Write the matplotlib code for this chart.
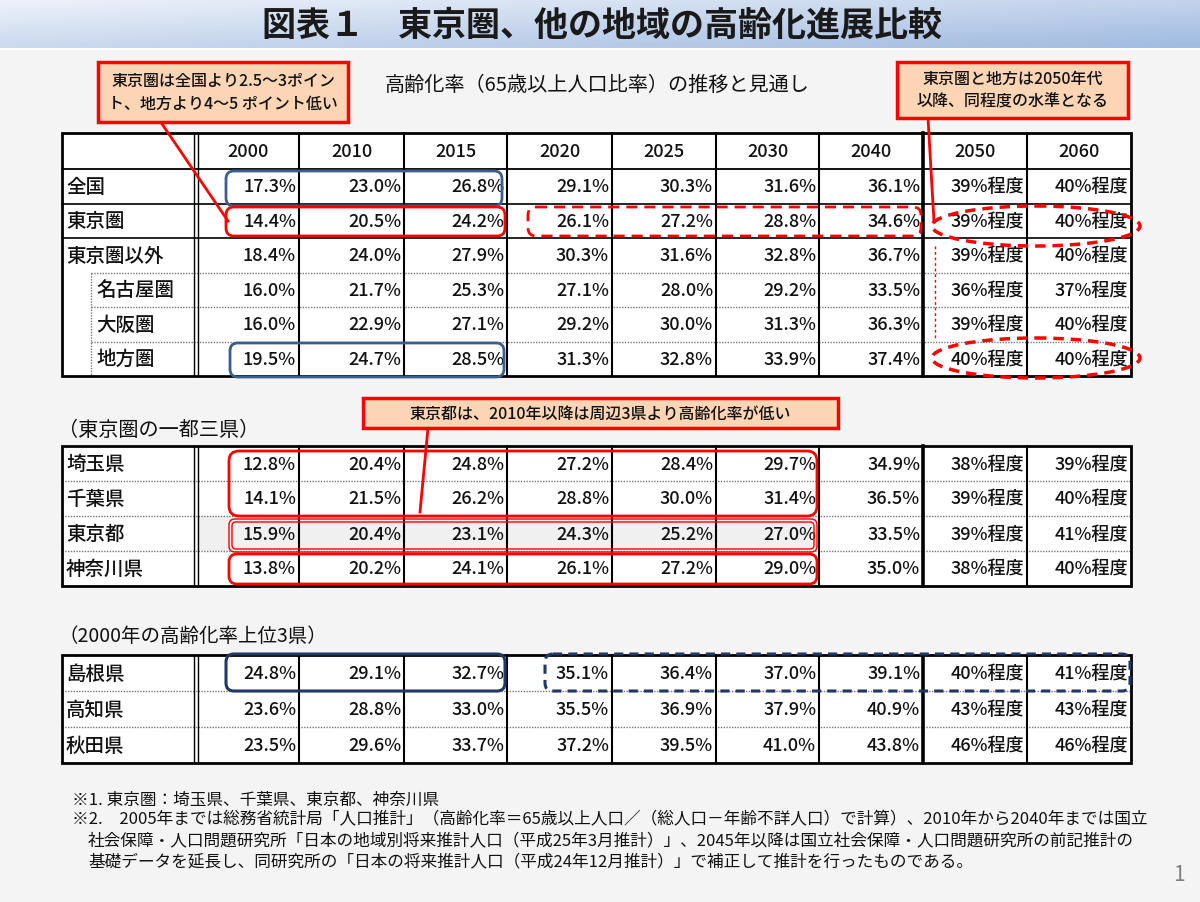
import matplotlib
matplotlib.use("Agg")
import matplotlib.pyplot as plt
import matplotlib.patches as mpatches
import numpy as np

plt.rcParams['font.family'] = ['Noto Sans CJK JP', 'DejaVu Sans']

# ---- data ----
years = [2000, 2010, 2015, 2020, 2025, 2030, 2040, 2050, 2060]

t1_labels = ['全国', '東京圏', '東京圏以外', '名古屋圏', '大阪圏', '地方圏']
zenkoku = [17.3, 23.0, 26.8, 29.1, 30.3, 31.6, 36.1, 39, 40]
tokyo_ken = [14.4, 20.5, 24.2, 26.1, 27.2, 28.8, 34.6, 39, 40]
tokyo_igai = [18.4, 24.0, 27.9, 30.3, 31.6, 32.8, 36.7, 39, 40]
nagoya = [16.0, 21.7, 25.3, 27.1, 28.0, 29.2, 33.5, 36, 37]
osaka = [16.0, 22.9, 27.1, 29.2, 30.0, 31.3, 36.3, 39, 40]
chiho = [19.5, 24.7, 28.5, 31.3, 32.8, 33.9, 37.4, 40, 40]

t2_labels = ['埼玉県', '千葉県', '東京都', '神奈川県']
saitama = [12.8, 20.4, 24.8, 27.2, 28.4, 29.7, 34.9, 38, 39]
chiba = [14.1, 21.5, 26.2, 28.8, 30.0, 31.4, 36.5, 39, 40]
tokyo_to = [15.9, 20.4, 23.1, 24.3, 25.2, 27.0, 33.5, 39, 41]
kanagawa = [13.8, 20.2, 24.1, 26.1, 27.2, 29.0, 35.0, 38, 40]

t3_labels = ['島根県', '高知県', '秋田県']
shimane = [24.8, 29.1, 32.7, 35.1, 36.4, 37.0, 39.1, 40, 41]
kochi = [23.6, 28.8, 33.0, 35.5, 36.9, 37.9, 40.9, 43, 43]
akita = [23.5, 29.6, 33.7, 37.2, 39.5, 41.0, 43.8, 46, 46]

title = '図表１　東京圏、他の地域の高齢化進展比較'
subtitle = '高齢化率（65歳以上人口比率）の推移と見通し'
note1 = '東京圏は全国より2.5～3ポイン\nト、地方より4～5 ポイント低い'
note2 = '東京圏と地方は2050年代\n以降、同程度の水準となる'
note3 = '東京都は、2010年以降は周辺3県より高齢化率が低い'
sec2 = '（東京圏の一都三県）'
sec3 = '（2000年の高齢化率上位3県）'
foot = ['※1. 東京圏：埼玉県、千葉県、東京都、神奈川県',
        '※2.　2005年までは総務省統計局「人口推計」（高齢化率＝65歳以上人口／（総人口－年齢不詳人口）で計算）、2010年から2040年までは国立',
        '社会保障・人口問題研究所「日本の地域別将来推計人口（平成25年3月推計）」、2045年以降は国立社会保障・人口問題研究所の前記推計の',
        '基礎データを延長し、同研究所の「日本の将来推計人口（平成24年12月推計）」で補正して推計を行ったものである。']

# ---- layout ----
col_x = [62, 197, 299, 404, 507, 612, 716, 819, 923, 1027, 1131]
RED = '#ff0000'
BLUE = '#3c5d8f'
NAVY = '#1f3864'
TXT = '#111111'

fig = plt.figure(figsize=(12, 9.02), dpi=100, facecolor='#f4f4f4')
ax = fig.add_axes([0, 0, 1, 1])
ax.set_xlim(0, 1200)
ax.set_ylim(902, 0)
ax.axis('off')

# title band gradient
gx = np.linspace(0, 1, 300)
gy = np.linspace(0, 1, 40)
GX, GY = np.meshgrid(gx, gy)
c0 = np.array([238, 242, 250]) / 255
c1 = np.array([160, 186, 224]) / 255
t = np.clip(0.55 * GX + 0.45 * GY, 0, 1)[..., None]
grad = c0 * (1 - t) + c1 * t
ax.imshow(grad, extent=[0, 1200, 48, 0], aspect='auto', zorder=0)
ax.plot([0, 1200], [49, 49], color='white', lw=1.5)
ax.text(602, 25, title, ha='center', va='center', fontsize=24.5, fontweight='bold', color='#1a1a1a')


def fmt(v, yr):
    if yr <= 2040:
        return f'{v:.1f}%'
    return f'{v:.0f}%程度'


def draw_table(top, row_h, labels, rows, header_h=0, indent=None, solid_rows=()):
    bottom = top + header_h + row_h * len(rows)
    ax.add_patch(mpatches.Rectangle((col_x[0], top), col_x[-1] - col_x[0], bottom - top,
                                    facecolor='white', edgecolor='none', zorder=1))
    if header_h:
        for i, yr in enumerate(years):
            cx = (col_x[i + 1] + col_x[i + 2]) / 2
            ax.text(cx, top + header_h / 2 + 1, str(yr), ha='center', va='center', fontsize=13,
                    color=TXT, fontweight='medium', zorder=5)
        ax.plot([col_x[0], col_x[-1]], [top + header_h] * 2, color='black', lw=1.3, zorder=3)
    y0 = top + header_h
    for r, (lab, vals) in enumerate(zip(labels, rows)):
        yc = y0 + row_h * (r + 0.5) + 1
        lx = 66
        if indent is not None and r >= indent:
            lx = 96
        ax.text(lx, yc, lab, ha='left', va='center', fontsize=14, color=TXT, fontweight='medium', zorder=5)
        for i, (v, yr) in enumerate(zip(vals, years)):
            ax.text(col_x[i + 2] - 3, yc, fmt(v, yr), ha='right', va='center', fontsize=13,
                    color=TXT, fontweight='medium', zorder=5)
        if r < len(rows) - 1:
            yl = y0 + row_h * (r + 1)
            if r in solid_rows:
                ax.plot([col_x[0], col_x[-1]], [yl, yl], color='black', lw=1.2, zorder=3)
            else:
                xs = 91 if (indent is not None and r >= indent - 1) else col_x[0]
                ax.plot([xs, col_x[-1]], [yl, yl], color='#777777', lw=1, ls=(0, (1, 1)), zorder=3)
    if indent is not None:
        ax.plot([91, 91], [y0 + row_h * indent, bottom], color='#777777', lw=1, ls=(0, (1, 1)), zorder=3)
    # vertical lines
    ax.plot([194, 194], [top, bottom], color='black', lw=1, zorder=3)
    ax.plot([197.5, 197.5], [top, bottom], color='black', lw=1, zorder=3)
    for x in col_x[2:-1]:
        lw = 2.6 if x == 923 else 1.5
        ax.plot([x, x], [top, bottom], color='black', lw=lw, zorder=3)
    ax.add_patch(mpatches.Rectangle((col_x[0], top), col_x[-1] - col_x[0], bottom - top,
                                    facecolor='none', edgecolor='black', lw=2, zorder=4))


def rbox(x0, y0, x1, y1, color, ls='-', lw=2, r=8):
    ax.add_patch(mpatches.FancyBboxPatch((x0, y0), x1 - x0, y1 - y0,
                                         boxstyle=f'round,pad=0,rounding_size={r}',
                                         facecolor='none', edgecolor=color, lw=lw, ls=ls, zorder=6))


def callout(x0, y0, x1, y1, text, fs=11.5):
    ax.add_patch(mpatches.Rectangle((x0, y0), x1 - x0, y1 - y0, facecolor='#fcd5b4',
                                    edgecolor=RED, lw=2.5, zorder=7))
    ax.text((x0 + x1) / 2, (y0 + y1) / 2 + 1, text, ha='center', va='center', fontsize=fs,
            linespacing=1.45, color=TXT, fontweight='medium', zorder=8)


# table 1
draw_table(133, 34.5, t1_labels, [zenkoku, tokyo_ken, tokyo_igai, nagoya, osaka, chiho],
           header_h=36, indent=3, solid_rows=(0, 1))
ax.text(385, 85, subtitle, ha='left', va='center', fontsize=14.5, color=TXT)

# table 2
ax.add_patch(mpatches.Rectangle((197, 516), 622, 35, facecolor='#f0f0f0', edgecolor='none', zorder=1.5))
ax.text(58, 430, sec2, ha='left', va='center', fontsize=14.5, color=TXT)
draw_table(446, 35, t2_labels, [saitama, chiba, tokyo_to, kanagawa])

# table 3
ax.text(58, 636, sec3, ha='left', va='center', fontsize=14, color=TXT)
draw_table(655, 36, t3_labels, [shimane, kochi, akita])

# highlight boxes, table 1
rbox(226, 171, 502, 206, BLUE)
rbox(230, 343, 504, 377, BLUE)
rbox(226, 207, 505, 236, RED)
rbox(528, 207, 921, 236, RED, ls=(0, (4, 2.5)))
for yc in (226, 358):
    ax.add_patch(mpatches.Ellipse((1036, yc), 208, 40, facecolor='none', edgecolor=RED,
                                  lw=2.5, ls=(0, (3, 2)), zorder=6))

# highlight boxes, table 2
rbox(229, 451, 817, 516, RED, r=10)
rbox(229, 519, 817, 552, RED, lw=1, r=6)
rbox(232, 522, 814, 549, RED, lw=1, r=4)
rbox(229, 554, 817, 584, RED, r=8)

# highlight boxes, table 3
rbox(226, 654, 505, 691, NAVY, lw=2.2)
rbox(545, 654, 1130, 691, NAVY, ls=(0, (3, 2)), lw=2.2)

# callouts
ax.plot([160, 228], [121, 221], color=RED, lw=2, zorder=6)
callout(98, 62, 348, 122, note1)
ax.plot([928, 934], [118, 222], color=RED, lw=2, zorder=6)
ax.plot([935, 935], [246, 340], color=RED, lw=1, ls=(0, (2, 2)), zorder=6)
callout(897, 62, 1128, 118, note2)
ax.plot([428, 420], [428, 512], color=RED, lw=2, zorder=6)
callout(363, 398, 838, 428, note3)

# footnotes
fs_note = 12
ax.text(72, 800, foot[0], ha='left', va='center', fontsize=fs_note, color=TXT)
ax.text(72, 820, foot[1], ha='left', va='center', fontsize=fs_note, color=TXT)
ax.text(88, 841, foot[2], ha='left', va='center', fontsize=fs_note, color=TXT)
ax.text(88, 862, foot[3], ha='left', va='center', fontsize=fs_note, color=TXT)
ax.text(1179, 875, '1', ha='center', va='center', fontsize=15, color='#808080')

fig.savefig('out.png', dpi=100, facecolor=fig.get_facecolor())
